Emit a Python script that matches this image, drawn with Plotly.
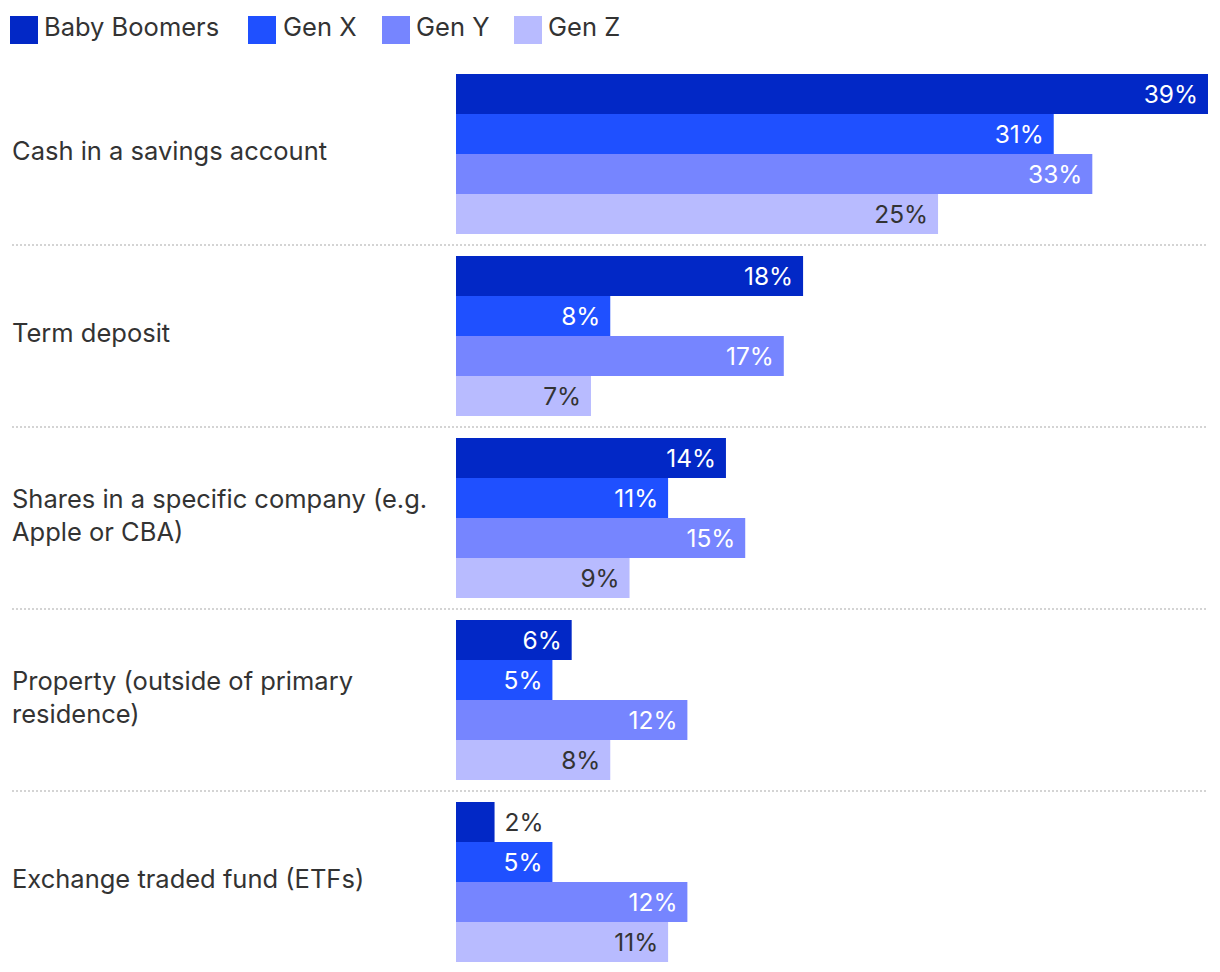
import plotly.graph_objects as go

categories = [
    "Cash in a savings account",
    "Term deposit",
    "Shares in a specific company (e.g.<br>Apple or CBA)",
    "Property (outside of primary<br>residence)",
    "Exchange traded fund (ETFs)",
]
series_names = ["Baby Boomers", "Gen X", "Gen Y", "Gen Z"]
baby_boomers = [39, 18, 14, 6, 2]
gen_x = [31, 8, 11, 5, 5]
gen_y = [33, 17, 15, 12, 12]
gen_z = [25, 7, 9, 8, 11]
series_values = [baby_boomers, gen_x, gen_y, gen_z]

colors = ["#0228C6", "#1F50FF", "#7685FF", "#B8BBFF"]
inside_text_colors = ["#FFFFFF", "#FFFFFF", "#FFFFFF", "#333333"]
FONT = "Inter"
TXT = "#333333"
LABEL_SIZE = 25.5
VALUE_SIZE = 24.5

fig = go.Figure()
for name, vals, col, itc in zip(series_names, series_values, colors, inside_text_colors):
    fig.add_trace(go.Bar(
        name=name,
        y=categories,
        x=vals,
        orientation="h",
        marker=dict(color=col, line=dict(width=0)),
        texttemplate="\u00a0%{x}%\u00a0",
        textposition="auto",
        insidetextanchor="end",
        insidetextfont=dict(color=itc, size=VALUE_SIZE, family=FONT),
        outsidetextfont=dict(color=TXT, size=VALUE_SIZE, family=FONT),
        textangle=0,
        constraintext="none",
        cliponaxis=False,
        showlegend=False,
        hoverinfo="skip",
    ))

# page body has an 8px margin; figure sized to fit the 1220x972 window
W, H = 1212, 964
ML, MR, MT, MB = 4, 12, 55, 0
plot_w = W - ML - MR
x_dom0 = (448 - ML) / plot_w

fig.update_layout(
    width=W, height=H,
    margin=dict(l=ML, r=MR, t=MT, b=MB, pad=0),
    paper_bgcolor="white", plot_bgcolor="white",
    barmode="group", bargap=0.121, bargroupgap=0,
    font=dict(family=FONT, color=TXT, size=LABEL_SIZE),
    xaxis=dict(domain=[x_dom0, 1], range=[0, 39], visible=False, showgrid=False, zeroline=False),
    yaxis=dict(type="category", categoryorder="array", categoryarray=categories,
               range=[len(categories) - 1 + 0.495, -0.5], visible=False,
               showgrid=False, zeroline=False),
    showlegend=False,
)

shapes = []
# dotted separators between category groups
for i in range(len(categories) - 1):
    shapes.append(dict(type="line", xref="paper", yref="y", x0=0, x1=1,
                       y0=i + 0.5, y1=i + 0.5,
                       line=dict(color="#D4D4D4", width=2, dash="2px,2px")))

annotations = []
for c in categories:
    annotations.append(dict(xref="paper", yref="y", x=0, y=c, xanchor="left", yanchor="middle",
                            align="left", text=c, showarrow=False, xshift=-2, yshift=3,
                            font=dict(size=LABEL_SIZE, family=FONT, color=TXT)))

# custom legend
sq_left = [-2, 236, 370, 502]
txt_left = [31, 270, 403, 535]
for name, col, sx, tx in zip(series_names, colors, sq_left, txt_left):
    shapes.append(dict(type="rect", xref="paper", yref="paper", xsizemode="pixel", ysizemode="pixel",
                       xanchor=0, yanchor=1, x0=sx, x1=sx + 28, y0=19, y1=47,
                       fillcolor=col, line=dict(width=0)))
    annotations.append(dict(xref="paper", yref="paper", x=0, y=1, xanchor="left", yanchor="middle",
                            xshift=tx - 1, yshift=37, text=name, showarrow=False,
                            font=dict(size=LABEL_SIZE, family=FONT, color=TXT)))

fig.update_layout(shapes=shapes, annotations=annotations)
fig.write_html("out.html")
